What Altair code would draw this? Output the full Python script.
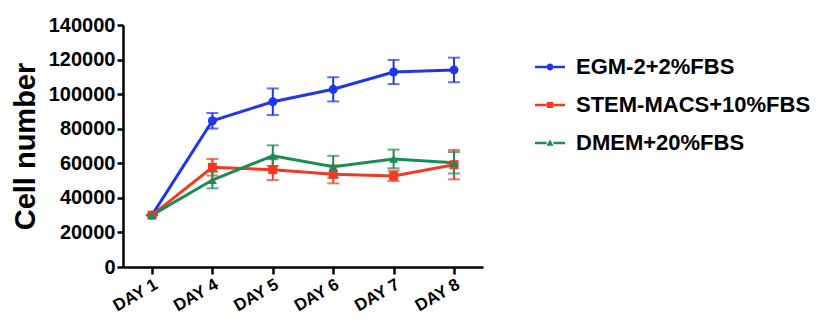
import altair as alt
import pandas as pd

days = ["DAY 1", "DAY 4", "DAY 5", "DAY 6", "DAY 7", "DAY 8"]
series = ["EGM-2+2%FBS", "STEM-MACS+10%FBS", "DMEM+20%FBS"]
egm_mean = [30000, 84600, 95600, 102800, 112800, 114000]
egm_err = [0, 4500, 7700, 7000, 7000, 7100]
stem_mean = [30000, 57700, 56300, 53600, 52700, 59200]
stem_err = [0, 4800, 6000, 5200, 3000, 8500]
dmem_mean = [30000, 50300, 64400, 58000, 62500, 60300]
dmem_err = [0, 4800, 6000, 6300, 5400, 6200]
colors = ["#1f35ee", "#f03a22", "#1a8c55"]

rows = []
for name, means, errs in zip(series, [egm_mean, stem_mean, dmem_mean], [egm_err, stem_err, dmem_err]):
    for d, m, e in zip(days, means, errs):
        rows.append({"day": d, "series": name, "mean": m, "lo": m - e, "hi": m + e})
df = pd.DataFrame(rows)

FONT = "Liberation Sans"
xscale = alt.Scale(type="point", padding=0.48)
xaxis = alt.Axis(title=None, labelAngle=-30, labelFontSize=17, labelFontWeight="bold",
                 labelColor="black", labelFont=FONT, domainColor="black", domainWidth=2.5,
                 tickColor="black", tickWidth=2.5, tickSize=7, labelPadding=2)
xenc = alt.X("day:N", sort=days, scale=xscale, axis=xaxis)
yscale = alt.Scale(domain=[0, 140000])
yaxis = alt.Axis(title="Cell number", values=list(range(0, 140001, 20000)), format="d",
                 titleFontSize=29, titleFontWeight="bold", titleFont=FONT, titleColor="black",
                 labelFontSize=20, labelFontWeight="bold", labelColor="black", labelFont=FONT,
                 domainColor="black", domainWidth=2.5, tickColor="black", tickWidth=2.5,
                 tickSize=6, grid=False, titlePadding=8, labelOverlap=False, labelPadding=2)


def Y(field):
    return alt.Y(field, scale=yscale, axis=yaxis)


color_scale = alt.Scale(domain=series, range=colors)
col = alt.Color("series:N", scale=color_scale, legend=None)

base = alt.Chart(df)

rules = base.mark_rule(strokeWidth=2).encode(x=xenc, y=Y("lo:Q"), y2="hi:Q", color=col)
caps_lo = base.mark_tick(thickness=2, size=12).encode(x=xenc, y=Y("lo:Q"), color=col)
caps_hi = base.mark_tick(thickness=2, size=12).encode(x=xenc, y=Y("hi:Q"), color=col)
lines = base.mark_line(strokeWidth=3).encode(x=xenc, y=Y("mean:Q"), color=col, detail="series:N")
points = base.mark_point(filled=True, opacity=1, size=80).encode(
    x=xenc, y=Y("mean:Q"), color=col,
    shape=alt.Shape("series:N", scale=alt.Scale(domain=series, range=["circle", "square", "triangle-up"]), legend=None))

bar_l = "M-1,-0.08H-0.23V0.08H-1Z M0.23,-0.08H1V0.08H0.23Z "
leg_paths = [
    bar_l + "M-0.23,0A0.23,0.23 0 1,0 0.23,0A0.23,0.23 0 1,0 -0.23,0Z",
    bar_l + "M-0.22,-0.2H0.22V0.2H-0.22Z",
    bar_l + "M0,-0.24L0.24,0.18H-0.24Z",
]
leg = alt.Legend(title=None, orient="none", legendX=412, legendY=27,
                 labelFontSize=22, labelFontWeight="bold", labelFont=FONT, labelLimit=400,
                 labelColor="black", symbolSize=900, symbolOpacity=1,
                 rowPadding=12, labelOffset=11, symbolStrokeWidth=0)
legend_layer = base.mark_point(filled=True, opacity=0).encode(
    x=xenc, y=Y("mean:Q"),
    color=alt.Color("series:N", scale=color_scale, legend=leg),
    shape=alt.Shape("series:N", scale=alt.Scale(domain=series, range=leg_paths), legend=leg),
)

chart = alt.layer(rules, caps_lo, caps_hi, lines, points, legend_layer).resolve_scale(
    shape="independent", color="independent"
).properties(
    width=360, height=242,
    background="white",
    autosize=alt.AutoSizeParams(type="none"),
    padding={"left": 115, "top": 17, "right": 333, "bottom": 47},
).configure_view(stroke=None)

chart.save("out.html", embed_options={"renderer": "svg", "actions": False})
